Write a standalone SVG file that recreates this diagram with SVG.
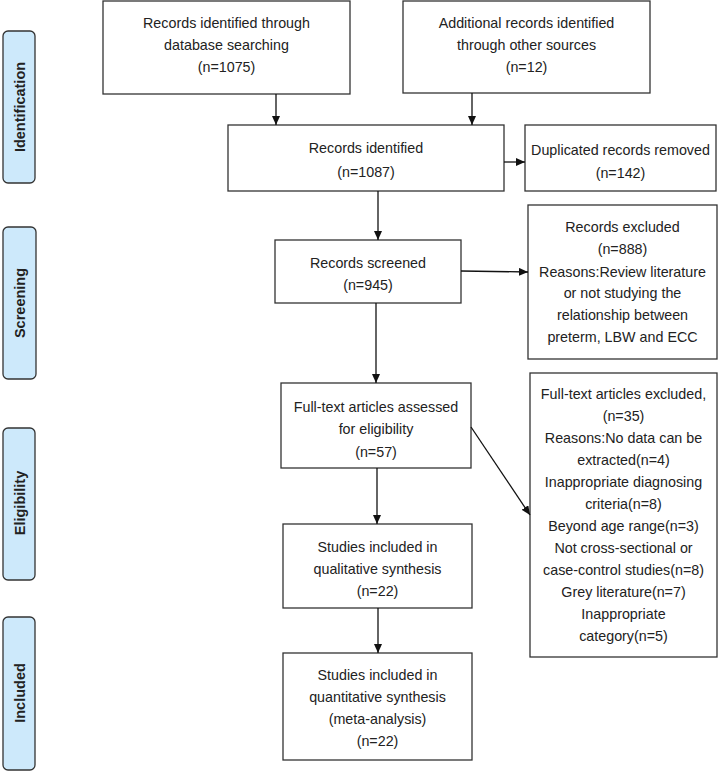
<svg xmlns="http://www.w3.org/2000/svg" width="720" height="772" viewBox="0 0 720 772">
<style>
.box{fill:#fff;stroke:#333;stroke-width:1.3}
.side{fill:#cde9fb;stroke:#333;stroke-width:1.3}
.t{font-family:"Liberation Sans",Arial,sans-serif;font-size:14.3px;fill:#222;text-anchor:middle}
.s{font-family:"Liberation Sans",Arial,sans-serif;font-size:14.5px;font-weight:bold;fill:#222;text-anchor:middle;dominant-baseline:central}
.c{stroke:#111;stroke-width:1.3;fill:none;marker-end:url(#ah)}
</style>
<defs>
<marker id="ah" markerWidth="9" markerHeight="8" refX="9" refY="4" orient="auto" markerUnits="userSpaceOnUse">
<path d="M0,0 L9,4 L0,8 Z" fill="#111"/>
</marker>
</defs>
<rect width="720" height="772" fill="#fff"/>
<g id="side-identification"><rect class="side" x="3" y="31" width="32" height="152" rx="5"/><text class="s" transform="translate(20,107) rotate(-90)">Identification</text></g>
<g id="side-screening"><rect class="side" x="3" y="227" width="33" height="152" rx="5"/><text class="s" transform="translate(20,303) rotate(-90)">Screening</text></g>
<g id="side-eligibility"><rect class="side" x="3" y="428" width="32" height="152" rx="5"/><text class="s" transform="translate(20,503) rotate(-90)">Eligibility</text></g>
<g id="side-included"><rect class="side" x="3" y="617" width="32" height="153" rx="5"/><text class="s" transform="translate(20,693) rotate(-90)">Included</text></g>

<g id="db"><rect class="box" x="103" y="1" width="247" height="93"/>
<text class="t" x="226.5" y="28">Records identified through</text>
<text class="t" x="226.5" y="50">database searching</text>
<text class="t" x="226.5" y="72">(n=1075)</text></g>
<g id="other"><rect class="box" x="403" y="1" width="247" height="92"/>
<text class="t" x="526.5" y="28">Additional records identified</text>
<text class="t" x="526.5" y="50">through other sources</text>
<text class="t" x="526.5" y="72">(n=12)</text></g>
<g id="identified"><rect class="box" x="228" y="125" width="276" height="66"/>
<text class="t" x="366" y="153">Records identified</text>
<text class="t" x="366" y="177">(n=1087)</text></g>
<g id="dup"><rect class="box" x="525" y="125" width="191" height="66"/>
<text class="t" x="620.5" y="155">Duplicated records removed</text>
<text class="t" x="620.5" y="178">(n=142)</text></g>
<g id="screened"><rect class="box" x="275" y="240" width="186" height="63"/>
<text class="t" x="368" y="268">Records screened</text>
<text class="t" x="368" y="290">(n=945)</text></g>
<g id="excluded"><rect class="box" x="528" y="205" width="189" height="154"/>
<text class="t" x="622.5" y="232">Records excluded</text>
<text class="t" x="622.5" y="254">(n=888)</text>
<text class="t" x="622.5" y="277">Reasons:Review literature</text>
<text class="t" x="622.5" y="298">or not studying the</text>
<text class="t" x="622.5" y="320">relationship between</text>
<text class="t" x="622.5" y="342">preterm, LBW and ECC</text></g>
<g id="fulltext"><rect class="box" x="281" y="383" width="190" height="85"/>
<text class="t" x="376" y="412">Full-text articles assessed</text>
<text class="t" x="376" y="434">for eligibility</text>
<text class="t" x="376" y="457">(n=57)</text></g>
<g id="ftexcluded"><rect class="box" x="530" y="373" width="187" height="284"/>
<text class="t" x="623.5" y="399">Full-text articles excluded,</text>
<text class="t" x="623.5" y="421">(n=35)</text>
<text class="t" x="623.5" y="443">Reasons:No data can be</text>
<text class="t" x="623.5" y="465">extracted(n=4)</text>
<text class="t" x="623.5" y="487">Inappropriate diagnosing</text>
<text class="t" x="623.5" y="509">criteria(n=8)</text>
<text class="t" x="623.5" y="531">Beyond age range(n=3)</text>
<text class="t" x="623.5" y="553">Not cross-sectional or</text>
<text class="t" x="623.5" y="575">case-control studies(n=8)</text>
<text class="t" x="623.5" y="597">Grey literature(n=7)</text>
<text class="t" x="623.5" y="619">Inappropriate</text>
<text class="t" x="623.5" y="641">category(n=5)</text></g>
<g id="qual"><rect class="box" x="283" y="524" width="189" height="84"/>
<text class="t" x="377.5" y="552">Studies included in</text>
<text class="t" x="377.5" y="574">qualitative synthesis</text>
<text class="t" x="377.5" y="596">(n=22)</text></g>
<g id="quant"><rect class="box" x="283" y="653" width="189" height="107"/>
<text class="t" x="377.5" y="680">Studies included in</text>
<text class="t" x="377.5" y="702">quantitative synthesis</text>
<text class="t" x="377.5" y="724">(meta-analysis)</text>
<text class="t" x="377.5" y="746">(n=22)</text></g>

<g id="connectors">
<line class="c" x1="276" y1="94" x2="276" y2="125"/>
<line class="c" x1="472" y1="93" x2="472" y2="125"/>
<line class="c" x1="504" y1="162" x2="525" y2="162"/>
<line class="c" x1="378" y1="191" x2="378" y2="240"/>
<line class="c" x1="461" y1="271" x2="528" y2="272"/>
<line class="c" x1="376" y1="303" x2="376" y2="383"/>
<line class="c" x1="471" y1="427" x2="530" y2="515"/>
<line class="c" x1="377" y1="468" x2="377" y2="524"/>
<line class="c" x1="378" y1="608" x2="378" y2="653"/>
</g>
</svg>
